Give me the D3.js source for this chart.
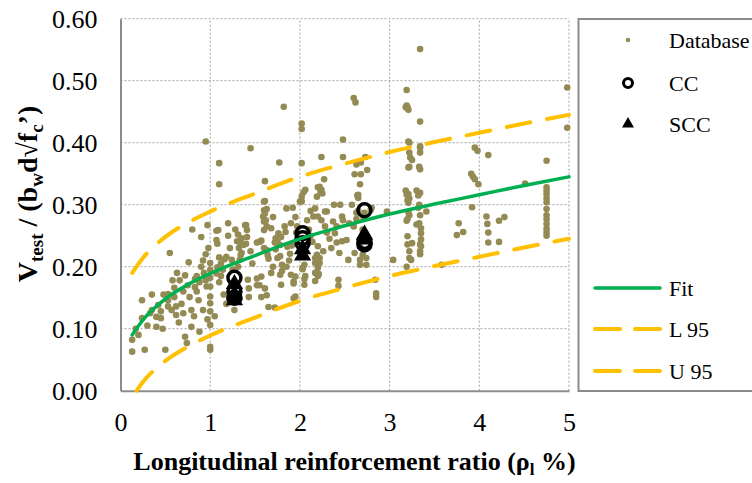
<!DOCTYPE html>
<html>
<head>
<meta charset="utf-8">
<script src="https://cdnjs.cloudflare.com/ajax/libs/d3/7.8.5/d3.min.js"></script>
<style>
    body { margin: 0; background: #fff; }
    svg { display: block; font-family: "Liberation Serif", "Times New Roman", serif; }
</style>
</head>
<body>
<div class="viz"></div>
<script>
// database tests: [rho_l %, Vtest/(bw d sqrt(fc'))]
var databasePts = [
    [0.13,0.082],[0.13,0.063],[0.27,0.066],[0.24,0.146],[0.24,0.117],[0.35,0.130],[0.40,0.119],[0.40,0.103],
    [0.45,0.128],[0.45,0.117],[0.50,0.066],[0.53,0.146],[0.53,0.136],[0.53,0.156],[0.55,0.222],[0.60,0.166],
    [0.60,0.151],[0.62,0.136],[0.62,0.122],[0.66,0.178],[0.72,0.186],[0.72,0.087],[0.74,0.077],[0.76,0.207],
    [0.77,0.151],[0.79,0.130],[0.79,0.103],[0.80,0.260],[0.83,0.180],[0.83,0.167],[0.85,0.160],[0.87,0.146],
    [0.90,0.200],[0.90,0.248],[0.93,0.190],[0.95,0.178],[0.96,0.168],[0.97,0.267],[1.00,0.206],[1.00,0.195],
    [1.00,0.182],[1.00,0.168],[1.00,0.152],[1.00,0.141],[1.00,0.128],[1.00,0.106],[1.00,0.071],[1.00,0.066],
    [0.95,0.402],[1.10,0.367],[1.10,0.333],[0.30,0.105],[0.33,0.125],[0.42,0.138],[0.47,0.100],[0.57,0.130],
    [0.65,0.110],[0.68,0.140],[0.70,0.125],[0.48,0.155],[0.58,0.178],[0.63,0.190],[0.70,0.160],[0.75,0.170],
    [0.82,0.120],[0.85,0.185],[0.88,0.175],[0.92,0.210],[0.95,0.220],[0.98,0.230],[0.88,0.095],[0.92,0.130],
    [0.97,0.115],[0.35,0.155],[0.17,0.100],[0.20,0.090],
    [1.07,0.258],[1.08,0.237],[1.08,0.199],[1.10,0.215],[1.12,0.205],[1.14,0.195],[1.16,0.212],[1.12,0.185],
    [1.10,0.175],[1.09,0.259],[1.07,0.243],[1.18,0.216],[1.07,0.189],[1.30,0.241],[1.32,0.230],[1.34,0.219],
    [1.31,0.252],[1.40,0.267],[1.41,0.259],[1.41,0.248],[1.40,0.237],[1.42,0.179],[1.43,0.165],[1.43,0.151],
    [1.39,0.267],[1.35,0.246],[1.33,0.240],[1.37,0.235],[1.35,0.222],[1.33,0.211],[1.24,0.211],[1.31,0.200],
    [1.45,0.391],[1.20,0.250],[1.22,0.230],[1.25,0.195],[1.15,0.155],[1.18,0.140],[1.05,0.120],[1.28,0.260],
    [1.20,0.270],[1.45,0.225],[1.47,0.205],[1.27,0.130],
    [1.52,0.181],[1.52,0.170],[1.57,0.151],[1.52,0.239],[1.57,0.242],[1.60,0.305],[1.60,0.291],[1.59,0.281],
    [1.60,0.273],[1.60,0.230],[1.64,0.219],[1.65,0.213],[1.65,0.135],[1.61,0.338],[1.77,0.368],[1.63,0.293],
    [1.85,0.294],[1.82,0.458],[1.61,0.306],[1.61,0.286],[1.62,0.275],[1.63,0.265],[1.60,0.259],[1.63,0.227],
    [1.76,0.254],[1.79,0.248],[1.83,0.265],[1.84,0.256],[1.72,0.239],[1.73,0.228],[1.75,0.214],[1.78,0.217],
    [1.86,0.232],[1.89,0.221],[1.91,0.234],[1.80,0.203],[1.80,0.193],[1.78,0.187],[1.79,0.171],[1.63,0.154],
    [1.72,0.134],[1.55,0.240],[1.57,0.184],[1.55,0.170],[1.61,0.165],[1.73,0.246],[1.76,0.246],[1.75,0.238],
    [1.78,0.235],[1.90,0.187],[1.93,0.176],[1.93,0.149],[1.95,0.184],[1.93,0.173],[1.95,0.152],[1.92,0.295],
    [1.95,0.280],[1.97,0.265],[1.90,0.270],[1.98,0.245],[1.96,0.255],[1.70,0.280],[1.68,0.262],[1.88,0.210],
    [1.85,0.200],[1.70,0.200],[1.68,0.190],
    [2.02,0.431],[2.02,0.422],[2.02,0.367],[2.24,0.377],[2.48,0.405],[2.48,0.377],[2.27,0.341],[2.20,0.328],
    [2.25,0.318],[2.23,0.321],[2.04,0.320],[2.02,0.305],[2.00,0.305],[2.02,0.313],[2.06,0.324],[2.17,0.294],
    [2.15,0.281],[2.20,0.281],[2.24,0.275],[2.28,0.289],[2.30,0.289],[2.37,0.273],[2.41,0.265],[2.39,0.254],
    [2.47,0.281],[2.48,0.275],[2.41,0.239],[2.47,0.241],[2.44,0.222],[2.54,0.211],[2.20,0.233],[2.19,0.219],
    [2.22,0.214],[2.22,0.206],[2.20,0.198],[2.05,0.203],[2.03,0.196],[2.06,0.185],[2.05,0.180],[2.20,0.185],
    [2.21,0.188],[2.43,0.179],[2.43,0.169],[2.03,0.198],[2.05,0.171],[2.17,0.214],[2.17,0.206],[2.17,0.190],
    [2.17,0.177],[2.22,0.329],[2.24,0.324],[2.19,0.313],[2.10,0.260],[2.12,0.250],[2.30,0.255],[2.33,0.245],
    [2.35,0.230],[2.28,0.265],[2.08,0.275],[2.12,0.290],[2.45,0.300],[2.38,0.300],[2.14,0.240],[2.26,0.225],
    [2.60,0.472],[2.62,0.465],[2.73,0.377],[2.63,0.365],[2.68,0.368],[2.61,0.349],[2.68,0.349],[2.75,0.356],
    [2.67,0.333],[2.64,0.315],[2.65,0.311],[2.65,0.316],[2.52,0.243],[2.61,0.222],[2.63,0.287],[2.65,0.290],
    [2.63,0.277],[2.72,0.287],[2.71,0.277],[2.67,0.232],[2.70,0.219],[2.67,0.211],[2.74,0.214],[2.67,0.203],
    [2.74,0.203],[2.79,0.292],[2.80,0.295],[2.97,0.289],[2.85,0.157],[2.85,0.151],[2.84,0.179],[2.70,0.260],
    [2.73,0.250],[2.60,0.265],[2.58,0.300],[2.55,0.270],
    [3.04,0.211],[3.34,0.551],[3.19,0.485],[3.19,0.460],[3.18,0.457],[3.21,0.453],[3.20,0.457],[3.34,0.434],
    [3.22,0.400],[3.22,0.384],[3.23,0.376],[3.22,0.361],[3.21,0.360],[3.34,0.392],[3.34,0.384],[3.33,0.361],
    [3.34,0.357],[3.19,0.316],[3.21,0.317],[3.22,0.310],[3.34,0.319],[3.21,0.303],[3.18,0.323],[3.20,0.307],
    [3.21,0.288],[3.22,0.283],[3.20,0.277],[3.19,0.274],[3.30,0.323],[3.32,0.315],[3.33,0.300],[3.32,0.295],
    [3.34,0.283],[3.33,0.270],[3.30,0.268],[3.41,0.289],[3.20,0.236],[3.22,0.225],[3.22,0.214],[3.24,0.211],
    [3.34,0.225],[3.34,0.220],[3.19,0.200],[3.20,0.249],[3.25,0.238],[3.35,0.262],[3.35,0.254],[3.35,0.244],
    [3.34,0.236],[3.35,0.233],[3.58,0.203],[3.21,0.402],[3.25,0.372],[3.34,0.394],
    [3.95,0.392],[3.98,0.387],[4.10,0.380],[3.91,0.350],[3.93,0.345],[3.95,0.341],[3.99,0.333],[3.92,0.296],
    [4.51,0.334],[4.75,0.371],[4.75,0.328],[4.75,0.323],[4.75,0.304],[4.98,0.489],[4.98,0.424],
    [3.77,0.270],[3.82,0.256],[3.75,0.251],[4.08,0.281],[4.09,0.269],[4.10,0.255],[4.10,0.239],[4.22,0.274],
    [4.28,0.280],[4.22,0.240],[4.75,0.317],[4.75,0.310],[4.75,0.293],[4.75,0.283],[4.75,0.277],[4.75,0.269],
    [4.75,0.261],[4.75,0.255],[4.75,0.250]
];

// own tests
var ccPts = [[1.27,0.182],[1.27,0.160],[1.27,0.150],[2.03,0.254],[2.03,0.246],[2.03,0.238],[2.72,0.291],[2.72,0.240],[2.72,0.236]];
var sccPts = [[1.27,0.172],[1.27,0.155],[1.27,0.146],[2.03,0.228],[2.03,0.218],[2.72,0.252],[2.72,0.244]];

// regression curve and 95% bounds
var fitRho = [0.13,0.25,0.5,0.75,1,1.5,2,2.5,3,3.5,4,4.5,5];
var fitV   = [0.090,0.114,0.148,0.171,0.189,0.218,0.245,0.266,0.285,0.301,0.316,0.331,0.345];
var u95V   = [0.190,0.214,0.248,0.271,0.289,0.318,0.345,0.366,0.385,0.401,0.416,0.431,0.445];
var l95Rho = [0.18,0.25,0.5,0.75,1,1.5,2,2.5,3,3.5,4,4.5,5];
var l95V   = [0.000,0.014,0.048,0.071,0.089,0.118,0.145,0.166,0.185,0.201,0.216,0.231,0.245];

var xTicks = [0,1,2,3,4,5];
var yTicks = [0,0.1,0.2,0.3,0.4,0.5,0.6];

var width = 752,
    height = 483;

var svg = d3.select('.viz').append('svg')
    .attr('width', width)
    .attr('height', height);

var x = d3.scaleLinear().domain([0, 5]).range([120.5, 569]);
var y = d3.scaleLinear().domain([0, 0.6]).range([390.7, 18.7]);

var gridColor = '#a0a0a0',
    axisColor = '#8c8c8c',
    dotColor = '#948a54',
    fitColor = '#00b050',
    bandColor = '#ffc000';

// grid
svg.append('g').selectAll('line.h')
    .data(yTicks.slice(1))
    .enter().append('line')
    .attr('x1', x(0)).attr('x2', x(5))
    .attr('y1', d => y(d)).attr('y2', d => y(d))
    .attr('stroke', gridColor)
    .attr('stroke-width', 1)
    .attr('stroke-dasharray', '2,2');

svg.append('g').selectAll('line.v')
    .data(xTicks.slice(1))
    .enter().append('line')
    .attr('x1', d => x(d)).attr('x2', d => x(d))
    .attr('y1', y(0)).attr('y2', y(0.6))
    .attr('stroke', gridColor)
    .attr('stroke-width', 1)
    .attr('stroke-dasharray', '2,2');

// axes
var xAxis = d3.axisBottom(x).tickValues(xTicks).tickSize(0).tickPadding(22).tickFormat(d3.format('d'));
var yAxis = d3.axisLeft(y).tickValues(yTicks).tickSize(0).tickPadding(23).tickFormat(d3.format('.2f'));

var gx = svg.append('g')
    .attr('transform', 'translate(0,' + y(0) + ')')
    .call(xAxis);
var gy = svg.append('g')
    .attr('transform', 'translate(' + x(0) + ',0)')
    .call(yAxis);

[gx, gy].forEach(function(g) {
    g.select('.domain').attr('stroke', axisColor).attr('stroke-width', 2);
    g.selectAll('text')
        .attr('font-family', '"Liberation Serif", serif')
        .attr('font-size', 26)
        .attr('fill', '#000');
});

// points
svg.append('g').selectAll('circle')
    .data(databasePts)
    .enter().append('circle')
    .attr('cx', d => x(d[0]))
    .attr('cy', d => y(d[1]))
    .attr('r', 3.3)
    .attr('fill', dotColor);

svg.append('g').selectAll('circle')
    .data(ccPts)
    .enter().append('circle')
    .attr('cx', d => x(d[0]))
    .attr('cy', d => y(d[1]))
    .attr('r', 6.5)
    .attr('fill', 'none')
    .attr('stroke', '#000')
    .attr('stroke-width', 3.5);

svg.append('g').selectAll('path')
    .data(sccPts)
    .enter().append('path')
    .attr('d', d3.symbol().type(d3.symbolTriangle).size(130))
    .attr('transform', d => 'translate(' + x(d[0]) + ',' + y(d[1]) + ')')
    .attr('fill', '#000');

// curves
var line = d3.line()
    .x(d => x(d[0]))
    .y(d => y(d[1]))
    .curve(d3.curveMonotoneX);

var fitData = fitRho.map((r, i) => [r, fitV[i]]);
var u95Data = fitRho.map((r, i) => [r, u95V[i]]);
var l95Data = l95Rho.map((r, i) => [r, l95V[i]]);

svg.append('path')
    .datum(fitData)
    .attr('d', line)
    .attr('fill', 'none')
    .attr('stroke', fitColor)
    .attr('stroke-width', 3.5)
    .attr('stroke-linecap', 'round');

[l95Data, u95Data].forEach(function(dat) {
    svg.append('path')
        .datum(dat)
        .attr('d', line)
        .attr('fill', 'none')
        .attr('stroke', bandColor)
        .attr('stroke-width', 4)
        .attr('stroke-linecap', 'round')
        .attr('stroke-dasharray', '24,17');
});

// legend
var lg = svg.append('g');
lg.append('rect')
    .attr('x', 578.5).attr('y', 19)
    .attr('width', 200).attr('height', 372)
    .attr('fill', '#fff')
    .attr('stroke', axisColor)
    .attr('stroke-width', 2);

var legendItems = [
    {label: 'Database', y: 40, kind: 'dot'},
    {label: 'CC', y: 83, kind: 'circle'},
    {label: 'SCC', y: 124, kind: 'tri'},
    {label: 'Fit', y: 288, kind: 'fit'},
    {label: 'L 95', y: 329, kind: 'band'},
    {label: 'U 95', y: 371, kind: 'band'}
];

legendItems.forEach(function(it) {
    if (it.kind == 'dot') {
        lg.append('circle').attr('cx', 628).attr('cy', it.y).attr('r', 2.3).attr('fill', dotColor);
    } else if (it.kind == 'circle') {
        lg.append('circle').attr('cx', 628).attr('cy', it.y).attr('r', 4.5)
            .attr('fill', '#fff').attr('stroke', '#000').attr('stroke-width', 3);
    } else if (it.kind == 'tri') {
        lg.append('path').attr('d', d3.symbol().type(d3.symbolTriangle).size(62))
            .attr('transform', 'translate(628,' + it.y + ')').attr('fill', '#000');
    } else {
        lg.append('line')
            .attr('x1', 595).attr('x2', 660)
            .attr('y1', it.y).attr('y2', it.y)
            .attr('stroke', it.kind == 'fit' ? fitColor : bandColor)
            .attr('stroke-width', it.kind == 'fit' ? 3.5 : 4)
            .attr('stroke-linecap', 'round')
            .attr('stroke-dasharray', it.kind == 'fit' ? null : '25,15');
    }
    lg.append('text')
        .attr('x', 669)
        .attr('y', it.y)
        .attr('dy', '0.35em')
        .attr('font-size', 22)
        .text(it.label);
});

// axis titles
var xt = svg.append('text')
    .attr('x', 354.5)
    .attr('y', 470)
    .attr('text-anchor', 'middle')
    .attr('font-size', 26)
    .attr('font-weight', 'bold');
xt.append('tspan').text('Longitudinal reinforcement ratio (\u03c1');
xt.append('tspan').attr('font-size', 17).attr('dy', 5).text('l');
xt.append('tspan').attr('dy', -5).text(' %)');

var yt = svg.append('text')
    .attr('transform', 'translate(37,194) rotate(-90)')
    .attr('text-anchor', 'middle')
    .attr('font-size', 28)
    .attr('font-weight', 'bold');
yt.append('tspan').text('V');
yt.append('tspan').attr('font-size', 19).attr('dy', 6).text('test');
yt.append('tspan').attr('dy', -6).text(' / (b');
yt.append('tspan').attr('font-size', 19).attr('dy', 6).text('w');
yt.append('tspan').attr('dy', -6).text('d\u221af');
yt.append('tspan').attr('font-size', 19).attr('dy', 6).text('c');
yt.append('tspan').attr('dy', -6).text('\u2019)');
</script>
</body>
</html>
